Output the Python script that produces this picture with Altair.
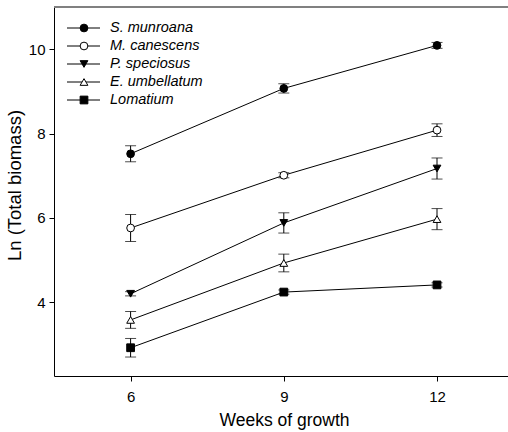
import altair as alt
import pandas as pd

series = ["S. munroana", "M. canescens", "P. speciosus", "E. umbellatum", "Lomatium"]
weeks = [6, 9, 12]
means = {
    "S. munroana":   [7.52, 9.07, 10.09],
    "M. canescens":  [5.76, 7.01, 8.08],
    "P. speciosus":  [4.20, 5.88, 7.17],
    "E. umbellatum": [3.58, 4.93, 5.97],
    "Lomatium":      [2.92, 4.24, 4.41],
}
errs = {
    "S. munroana":   [0.19, 0.11, 0.07],
    "M. canescens":  [0.32, 0.06, 0.15],
    "P. speciosus":  [0.05, 0.24, 0.25],
    "E. umbellatum": [0.20, 0.21, 0.25],
    "Lomatium":      [0.22, 0.05, 0.05],
}
shapes = ["circle", "circle", "triangle-down", "triangle-up", "square"]
fills = ["black", "white", "black", "white", "black"]

rows = []
for s in series:
    for w, m, e in zip(weeks, means[s], errs[s]):
        rows.append({"series": s, "week": w, "mean": m, "lo": m - e, "hi": m + e})
df = pd.DataFrame(rows)
leg = pd.DataFrame({"series": series, "row": list(range(len(series)))})

W, H = 454, 369
FONT = "Liberation Sans"

xs = alt.Scale(domain=[4.5, 13.39], nice=False, zero=False)
ys = alt.Scale(domain=[2.25, 11], nice=False, zero=False)
shape_sc = alt.Scale(domain=series, range=shapes)
fill_sc = alt.Scale(domain=series, range=fills)

x_enc = alt.X("week:Q", scale=xs, title="Weeks of growth",
              axis=alt.Axis(values=weeks, grid=False, domainColor="black", tickColor="black",
                            tickSize=5, labelFontSize=15, labelPadding=8, titleFontSize=17.5,
                            titleFontWeight="normal", titlePadding=7, labelFont=FONT, titleFont=FONT,
                            labelColor="black", titleColor="black", titleX=230))
y_axis = alt.Axis(values=[4, 6, 8, 10], grid=False, domainColor="black", tickColor="black",
                  tickSize=5, labelFontSize=15, labelPadding=4, titleFontSize=18.5,
                  titleFontWeight="normal", titlePadding=4, labelFont=FONT, titleFont=FONT,
                  labelColor="black", titleColor="black", titleY=178)

base = alt.Chart(df)

lines = base.mark_line(color="black", strokeWidth=1).encode(
    x=x_enc,
    y=alt.Y("mean:Q", scale=ys, title="Ln (Total biomass)", axis=y_axis),
    detail="series:N",
)
bars = base.mark_rule(color="black", strokeWidth=1).encode(
    x="week:Q", y="lo:Q", y2="hi:Q"
)
cap_hi = base.mark_tick(color="black", orient="horizontal", size=11, thickness=1).encode(
    x="week:Q", y="hi:Q"
)
cap_lo = base.mark_tick(color="black", orient="horizontal", size=11, thickness=1).encode(
    x="week:Q", y="lo:Q"
)
pts = base.mark_point(filled=True, stroke="black", strokeWidth=1, opacity=1, size=60).encode(
    x="week:Q", y="mean:Q",
    shape=alt.Shape("series:N", scale=shape_sc, legend=None),
    fill=alt.Fill("series:N", scale=fill_sc, legend=None),
)
top = alt.Chart(leg).mark_rule(color="#808080", strokeWidth=1.5).encode(
    x=alt.value(0), x2=alt.value(W), y=alt.value(0)
)

data_layer = alt.layer(bars, cap_hi, cap_lo, lines, pts, top)

ly = alt.Y("row:Q", scale=alt.Scale(domain=[0, 4], range=[21, 93], nice=False, zero=False), axis=None)
leg_line = alt.Chart(leg).mark_rule(color="black", strokeWidth=1).encode(
    x=alt.value(13), x2=alt.value(46), y=ly
)
leg_pt = alt.Chart(leg).mark_point(filled=True, stroke="black", strokeWidth=1, opacity=1, size=60).encode(
    x=alt.value(30), y=ly,
    shape=alt.Shape("series:N", scale=shape_sc, legend=None),
    fill=alt.Fill("series:N", scale=fill_sc, legend=None),
)
leg_txt = alt.Chart(leg).mark_text(align="left", baseline="middle", fontSize=14.5,
                                   fontStyle="italic", font=FONT, color="black").encode(
    x=alt.value(56), y=ly, text="series:N"
)
legend_layer = alt.layer(leg_line, leg_pt, leg_txt)

chart = alt.layer(data_layer, legend_layer).resolve_scale(y="independent").properties(
    width=W, height=H,
    autosize=alt.AutoSizeParams(type="none"),
    padding={"left": 54, "top": 7, "right": 0, "bottom": 56},
).configure_view(stroke=None)

chart.save("out.html", embed_options={"renderer": "svg", "actions": False})
